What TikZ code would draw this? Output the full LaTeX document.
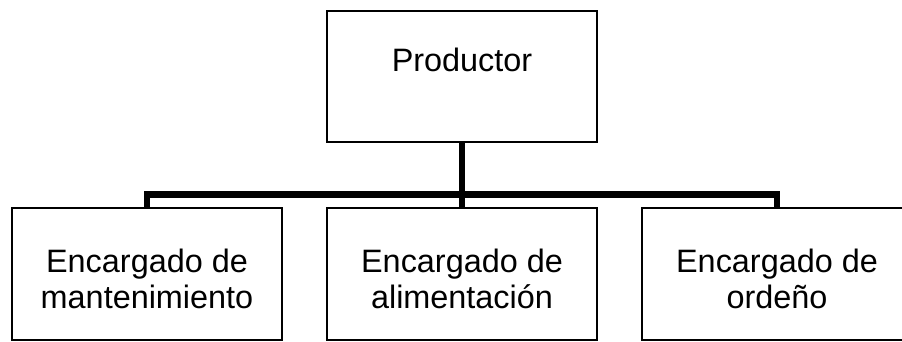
\documentclass[tikz,border=0pt]{standalone}
\usepackage{fontspec}
\setmainfont{Liberation Sans}
\begin{document}
\begin{tikzpicture}[x=1pt,y=-1pt,
  box/.style={draw=black,line width=1.4pt,rectangle,minimum width=270pt,minimum height=132pt,inner sep=0pt,fill=white},
  lbl/.style={anchor=base,inner sep=0pt,font=\fontsize{32.4}{37}\selectfont},
  conn/.style={draw=black,line width=6.2pt,line join=miter,line cap=butt}]
\useasboundingbox (0,0) rectangle (902,342);
\node[box,minimum height=131pt] (P) at (462,76.5) {};
\node[box] (L) at (147,274) {};
\node[box] (M) at (462,274) {};
\node[box] (R) at (777,274) {};
\coordinate (bar) at (462,194.5);
\draw[conn] (L.north) |- (bar) -| (R.north);
\draw[conn] (P.south) -- (M.north);
\node[lbl] (Pt) at (462,72) {Productor};
\node[lbl] (L1) at (147,272) {Encargado de};
\node[lbl] (L2) at (147,308) {mantenimiento};
\node[lbl] (M1) at (462,272) {Encargado de};
\node[lbl] (M2) at (462,308) {alimentación};
\node[lbl] (R1) at (777,272) {Encargado de};
\node[lbl] (R2) at (777,308) {ordeño};
\end{tikzpicture}
\end{document}
